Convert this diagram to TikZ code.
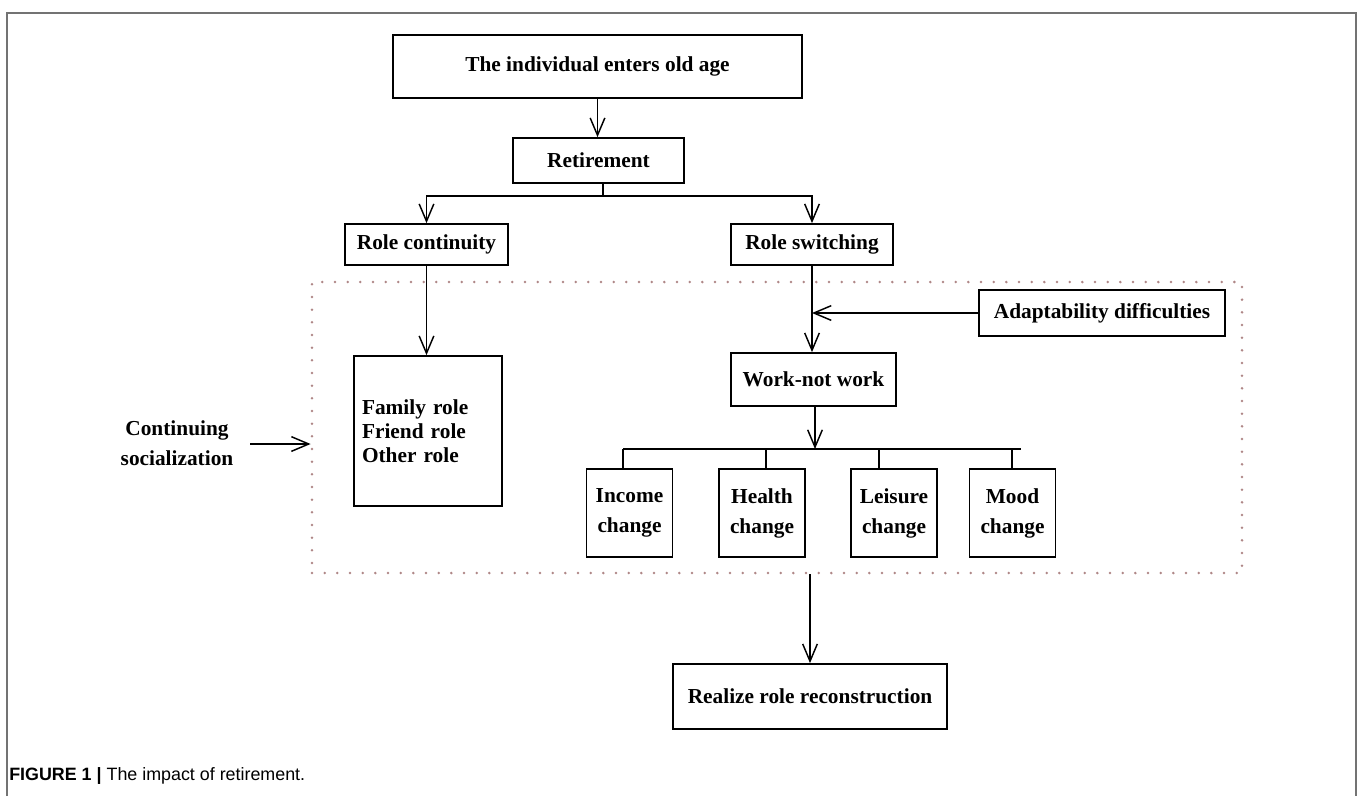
\documentclass[tikz,border=0pt]{standalone}
\usepackage{fontspec}
\setmainfont{Liberation Serif}
\newfontfamily\capfont{Liberation Sans}
\usetikzlibrary{arrows.meta}
\definecolor{dotc}{RGB}{175,135,135}
\definecolor{framec}{RGB}{115,115,115}
\begin{document}
\begin{tikzpicture}[x=0.75pt,y=-0.75pt,
  box/.style={draw, line width=1.3pt, inner sep=0pt, align=center,
    font=\fontsize{16}{19}\selectfont\bfseries},
  chg/.style={box, minimum width=64.5pt, minimum height=66pt,
    font=\fontsize{16}{22.5}\selectfont\bfseries},
  conn/.style={line width=1.1pt},
  arr/.style={conn, -{Straight Barb[length=13pt,width=11pt]}},
]
\useasboundingbox (0,0) rectangle (1358,796);
% outer frame
\draw[framec, line width=1.4pt] (7,796) -- (7,13) -- (1356,13) -- (1356,796);

% dotted region
\node[draw=dotc, line width=2.1pt, dash pattern=on 0pt off 9.5pt, line cap=round,
  minimum width=697.5pt, minimum height=218.25pt, inner sep=0pt] (dot) at (777,427.5) {};

% boxes
\node[box, line width=1.7pt, minimum width=306.75pt, minimum height=47.25pt] (top) at (597.5,66.5) {The individual enters old age};
\node[box, minimum width=128.25pt, minimum height=33.75pt] (ret) at (598.5,160.5) {Retirement};
\node[box, minimum width=122.25pt, minimum height=30.75pt] (rc) at (426.5,244.5) {Role continuity};
\node[box, minimum width=121.5pt, minimum height=30.75pt] (rs) at (812,244.5) {Role switching};
\node[box, minimum width=184.5pt, minimum height=34.5pt] (ad) at (1102,313) {Adaptability difficulties};
\node[box, minimum width=123.75pt, minimum height=39.75pt] (work) at (813.5,379.5) {Work-not work};
\node[box, minimum width=111pt, minimum height=112.5pt, text width=99pt, align=left,
  font=\fontsize{16}{18}\selectfont\bfseries] (fam) at (428,431) {Family role\\Friend role\\Other role};
\node[chg] (inc) at (629.5,513) {Income\\change};
\node[chg] (hea) at (762,513) {Health\\change};
\node[chg] (lei) at (894,513) {Leisure\\change};
\node[chg] (moo) at (1012.5,513) {Mood\\change};
\node[box, minimum width=205.5pt, minimum height=48.75pt] (rea) at (810,696.5) {Realize role reconstruction};
\node[align=center, inner sep=0pt, font=\fontsize{16}{22.5}\selectfont\bfseries] (cs) at (177,443) {Continuing\\socialization};

% connectors
\draw[arr] (top.south) -- (top.south |- ret.north);
\coordinate (br) at (603,196);
\draw[conn] (br |- ret.south) -- (br);
\draw[arr] (br) -| (rc.north);
\draw[arr] (br) -| (rs.north);
\draw[arr] (rc.south) -- (rc.south |- fam.north);
\draw[arr] (rs.south) -- (rs.south |- work.north);
\draw[arr] (ad.west) -- (ad.west -| rs.south);
\coordinate (csa) at (250,444);
\draw[arr] (csa) -- (csa -| dot.west);
\coordinate (bl) at (623,449);
\coordinate (bm) at (815,449);
\coordinate (brr) at (1021,449);
\coordinate (d2) at (766,449);
\coordinate (d3) at (879,449);
\coordinate (d4) at (1012,449);
\draw[arr] (work.south -| bm) -- (bm);
\draw[conn] (bl) -- (brr);
\draw[conn] (bl) -- (bl |- inc.north);
\draw[conn] (d2) -- (d2 |- hea.north);
\draw[conn] (d3) -- (d3 |- lei.north);
\draw[conn] (d4) -- (d4 |- moo.north);
\draw[arr] (rea.north |- dot.south) -- (rea.north);

% caption
\node[anchor=base west, inner sep=0pt, font=\capfont\fontsize{13.4}{15}\selectfont] (cap) at (9,780) {\textbf{FIGURE 1 |} The impact of retirement.};
\end{tikzpicture}
\end{document}
